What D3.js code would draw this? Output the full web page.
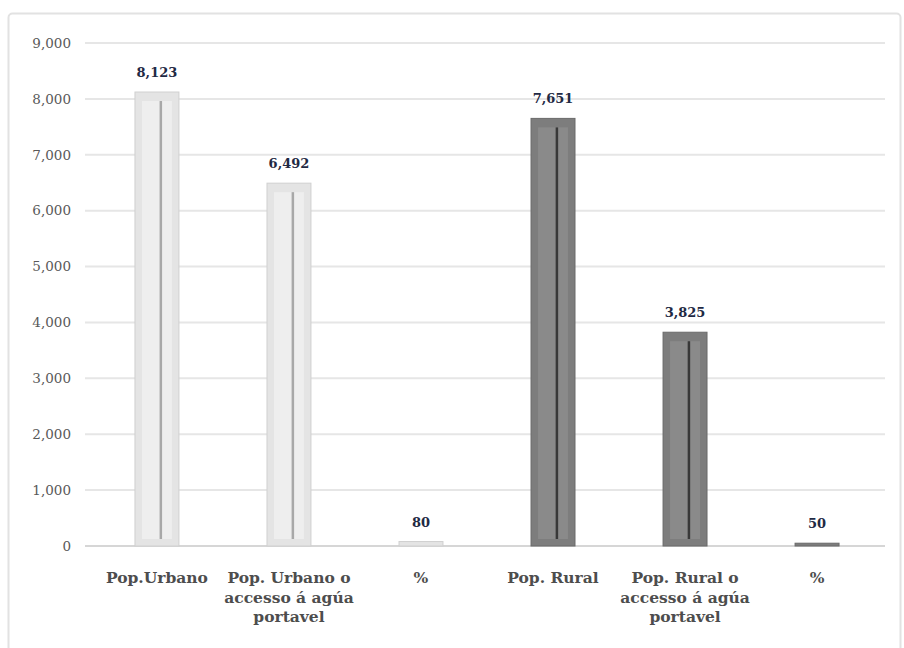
<!DOCTYPE html>
<html><head><meta charset="utf-8">
<script src="https://cdn.jsdelivr.net/npm/d3@7"></script>
<style>body{margin:0;background:#fff;}svg{display:block;} text{font-family:'DejaVu Serif',serif;}</style>
</head><body>
<script>
const categories = [
  ["Pop.Urbano"],
  ["Pop. Urbano o", "accesso á agúa", "portavel"],
  ["%"],
  ["Pop. Rural"],
  ["Pop. Rural o", "accesso á agúa", "portavel"],
  ["%"]
];
const values = [8123, 6492, 80, 7651, 3825, 50];
const groups = ["urban", "urban", "urban", "rural", "rural", "rural"];
const valueLabels = ["8,123", "6,492", "80", "7,651", "3,825", "50"];
const yTicks = [0, 1000, 2000, 3000, 4000, 5000, 6000, 7000, 8000, 9000];

const W = 904, H = 648;
const svg = d3.select("body").append("svg").attr("width", W).attr("height", H);

svg.append("rect").attr("x", 8.5).attr("y", 13.5).attr("width", W - 12).attr("height", H - 10)
  .attr("rx", 4).attr("fill", "#fff").attr("stroke", "#e2e2e2").attr("stroke-width", 2);

const x = d3.scaleBand().domain(d3.range(values.length)).range([91, 883]).paddingInner(0.667).paddingOuter(0.333);
const y = d3.scaleLinear().domain([0, 9000]).range([546, 43]);

svg.append("g").selectAll("line").data(yTicks.filter(d => d > 0)).join("line")
  .attr("x1", 85).attr("x2", 885).attr("y1", d => y(d)).attr("y2", d => y(d))
  .attr("stroke", "#e6e6e6").attr("stroke-width", 2);
svg.append("line").attr("x1", 85).attr("x2", 885).attr("y1", y(0)).attr("y2", y(0))
  .attr("stroke", "#d6d6d6").attr("stroke-width", 2);

const yAxis = d3.axisLeft(y).tickValues(yTicks).tickFormat(d3.format(",")).tickSize(0).tickPadding(0);
const ya = svg.append("g").attr("transform", "translate(71,0)").call(yAxis);
ya.select(".domain").remove();
ya.attr("font-family", null);
ya.selectAll("text").attr("font-size", 13.5).attr("fill", "#595959");

const colors = {
  urban: {outer: "#e4e4e4", inner: "#eeeeee", line: "#a8a8a8", edge: "#d0d0d0"},
  rural: {outer: "#7d7d7d", inner: "#8a8a8a", line: "#383838", edge: "#6a6a6a"}
};

const barData = values.map((v, i) => ({v, i, g: groups[i]}));
const bars = svg.append("g").selectAll("g").data(barData).join("g");
bars.append("rect")
  .attr("x", d => x(d.i)).attr("width", x.bandwidth())
  .attr("y", d => y(d.v)).attr("height", d => y(0) - y(d.v))
  .attr("fill", d => colors[d.g].outer)
  .attr("stroke", d => colors[d.g].edge).attr("stroke-width", 1);
const tall = bars.filter(d => y(0) - y(d.v) > 20);
tall.append("rect")
  .attr("x", d => x(d.i) + 7).attr("width", x.bandwidth() - 14)
  .attr("y", d => y(d.v) + 9).attr("height", d => y(0) - y(d.v) - 16)
  .attr("fill", d => colors[d.g].inner);
tall.append("rect")
  .attr("x", d => x(d.i) + x.bandwidth() * 0.56).attr("width", 2.5)
  .attr("y", d => y(d.v) + 9).attr("height", d => y(0) - y(d.v) - 16)
  .attr("fill", d => colors[d.g].line);

svg.append("g").selectAll("text").data(barData).join("text")
  .attr("x", d => x(d.i) + x.bandwidth() / 2)
  .attr("y", d => y(d.v) - 15)
  .attr("text-anchor", "middle")
  .attr("font-size", 13).attr("font-weight", "bold").attr("fill", "#1f2a44")
  .text(d => valueLabels[d.i]);

const cl = svg.append("g").selectAll("text").data(categories).join("text")
  .attr("text-anchor", "middle")
  .attr("font-size", 15.5).attr("font-weight", "bold").attr("fill", "#4d4d4d");
cl.selectAll("tspan").data((d, i) => d.map(t => ({t, i}))).join("tspan")
  .attr("x", d => x(d.i) + x.bandwidth() / 2)
  .attr("y", (d, j) => 583 + j * 19.5)
  .text(d => d.t);
</script>
</body></html>
